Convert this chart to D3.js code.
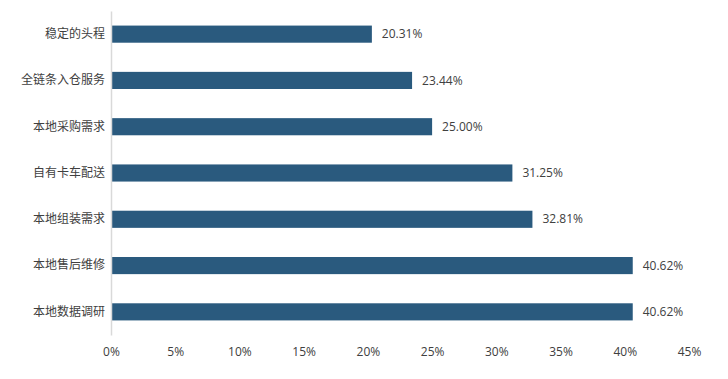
<!DOCTYPE html>
<html>
<head>
<meta charset="utf-8">
<script src="https://cdn.jsdelivr.net/npm/d3@7"></script>
<style>
  body { margin: 0; background: #fff; }
  text { font-family: "Open Sans", "Noto Sans CJK SC", sans-serif; fill: #404040; }
</style>
</head>
<body>
<div id="chart"></div>
<script>
const categories = ["稳定的头程", "全链条入仓服务", "本地采购需求", "自有卡车配送", "本地组装需求", "本地售后维修", "本地数据调研"];
const values = [20.31, 23.44, 25.00, 31.25, 32.81, 40.62, 40.62];
const ticks = [0, 5, 10, 15, 20, 25, 30, 35, 40, 45];

const width = 728, height = 379;
const margin = {top: 11, right: 39, bottom: 44, left: 111};

let svg = d3.select("#chart").append("svg")
    .attr("width", width)
    .attr("height", height);

let xScale = d3.scaleLinear()
    .domain([0, 45])
    .range([margin.left, width - margin.right]);

let yScale = d3.scaleBand()
    .domain(categories)
    .range([margin.top, height - margin.bottom])
    .paddingInner(0.63)
    .paddingOuter(0.315);

// bars
svg.selectAll(".bar")
    .data(categories)
    .enter()
    .append("rect")
    .attr("class", "bar")
    .attr("x", xScale(0))
    .attr("y", function(d) { return yScale(d); })
    .attr("width", function(d, i) { return xScale(values[i]) - xScale(0); })
    .attr("height", yScale.bandwidth())
    .attr("fill", "#2a5a7e");

// value labels
svg.selectAll(".label")
    .data(categories)
    .enter()
    .append("text")
    .attr("class", "label")
    .attr("x", function(d, i) { return xScale(values[i]) + 10; })
    .attr("y", function(d) { return yScale(d) + yScale.bandwidth() / 2; })
    .attr("dy", "0.35em")
    .style("font-size", "12px")
    .text(function(d, i) { return values[i].toFixed(2) + "%"; });

// y axis
let yAxis = d3.axisLeft(yScale).tickSize(0).tickPadding(6);
let yAxis_g = svg.append("g")
    .attr("transform", "translate(" + margin.left + ",0)")
    .call(yAxis);
yAxis_g.select(".domain").attr("stroke", "#d9d9d9").attr("stroke-width", 1.5);
yAxis_g.selectAll("text")
    .style("font-size", "12px")
    .style("font-family", "'Noto Sans CJK SC', sans-serif")
    .attr("fill", "#404040");

// x axis (labels only)
let xAxis = d3.axisBottom(xScale)
    .tickValues(ticks)
    .tickSize(0)
    .tickPadding(12)
    .tickFormat(function(d) { return d + "%"; });
let xAxis_g = svg.append("g")
    .attr("transform", "translate(0," + (height - margin.bottom) + ")")
    .call(xAxis);
xAxis_g.select(".domain").remove();
xAxis_g.selectAll("text")
    .style("font-size", "12px")
    .attr("fill", "#404040");
</script>
</body>
</html>
